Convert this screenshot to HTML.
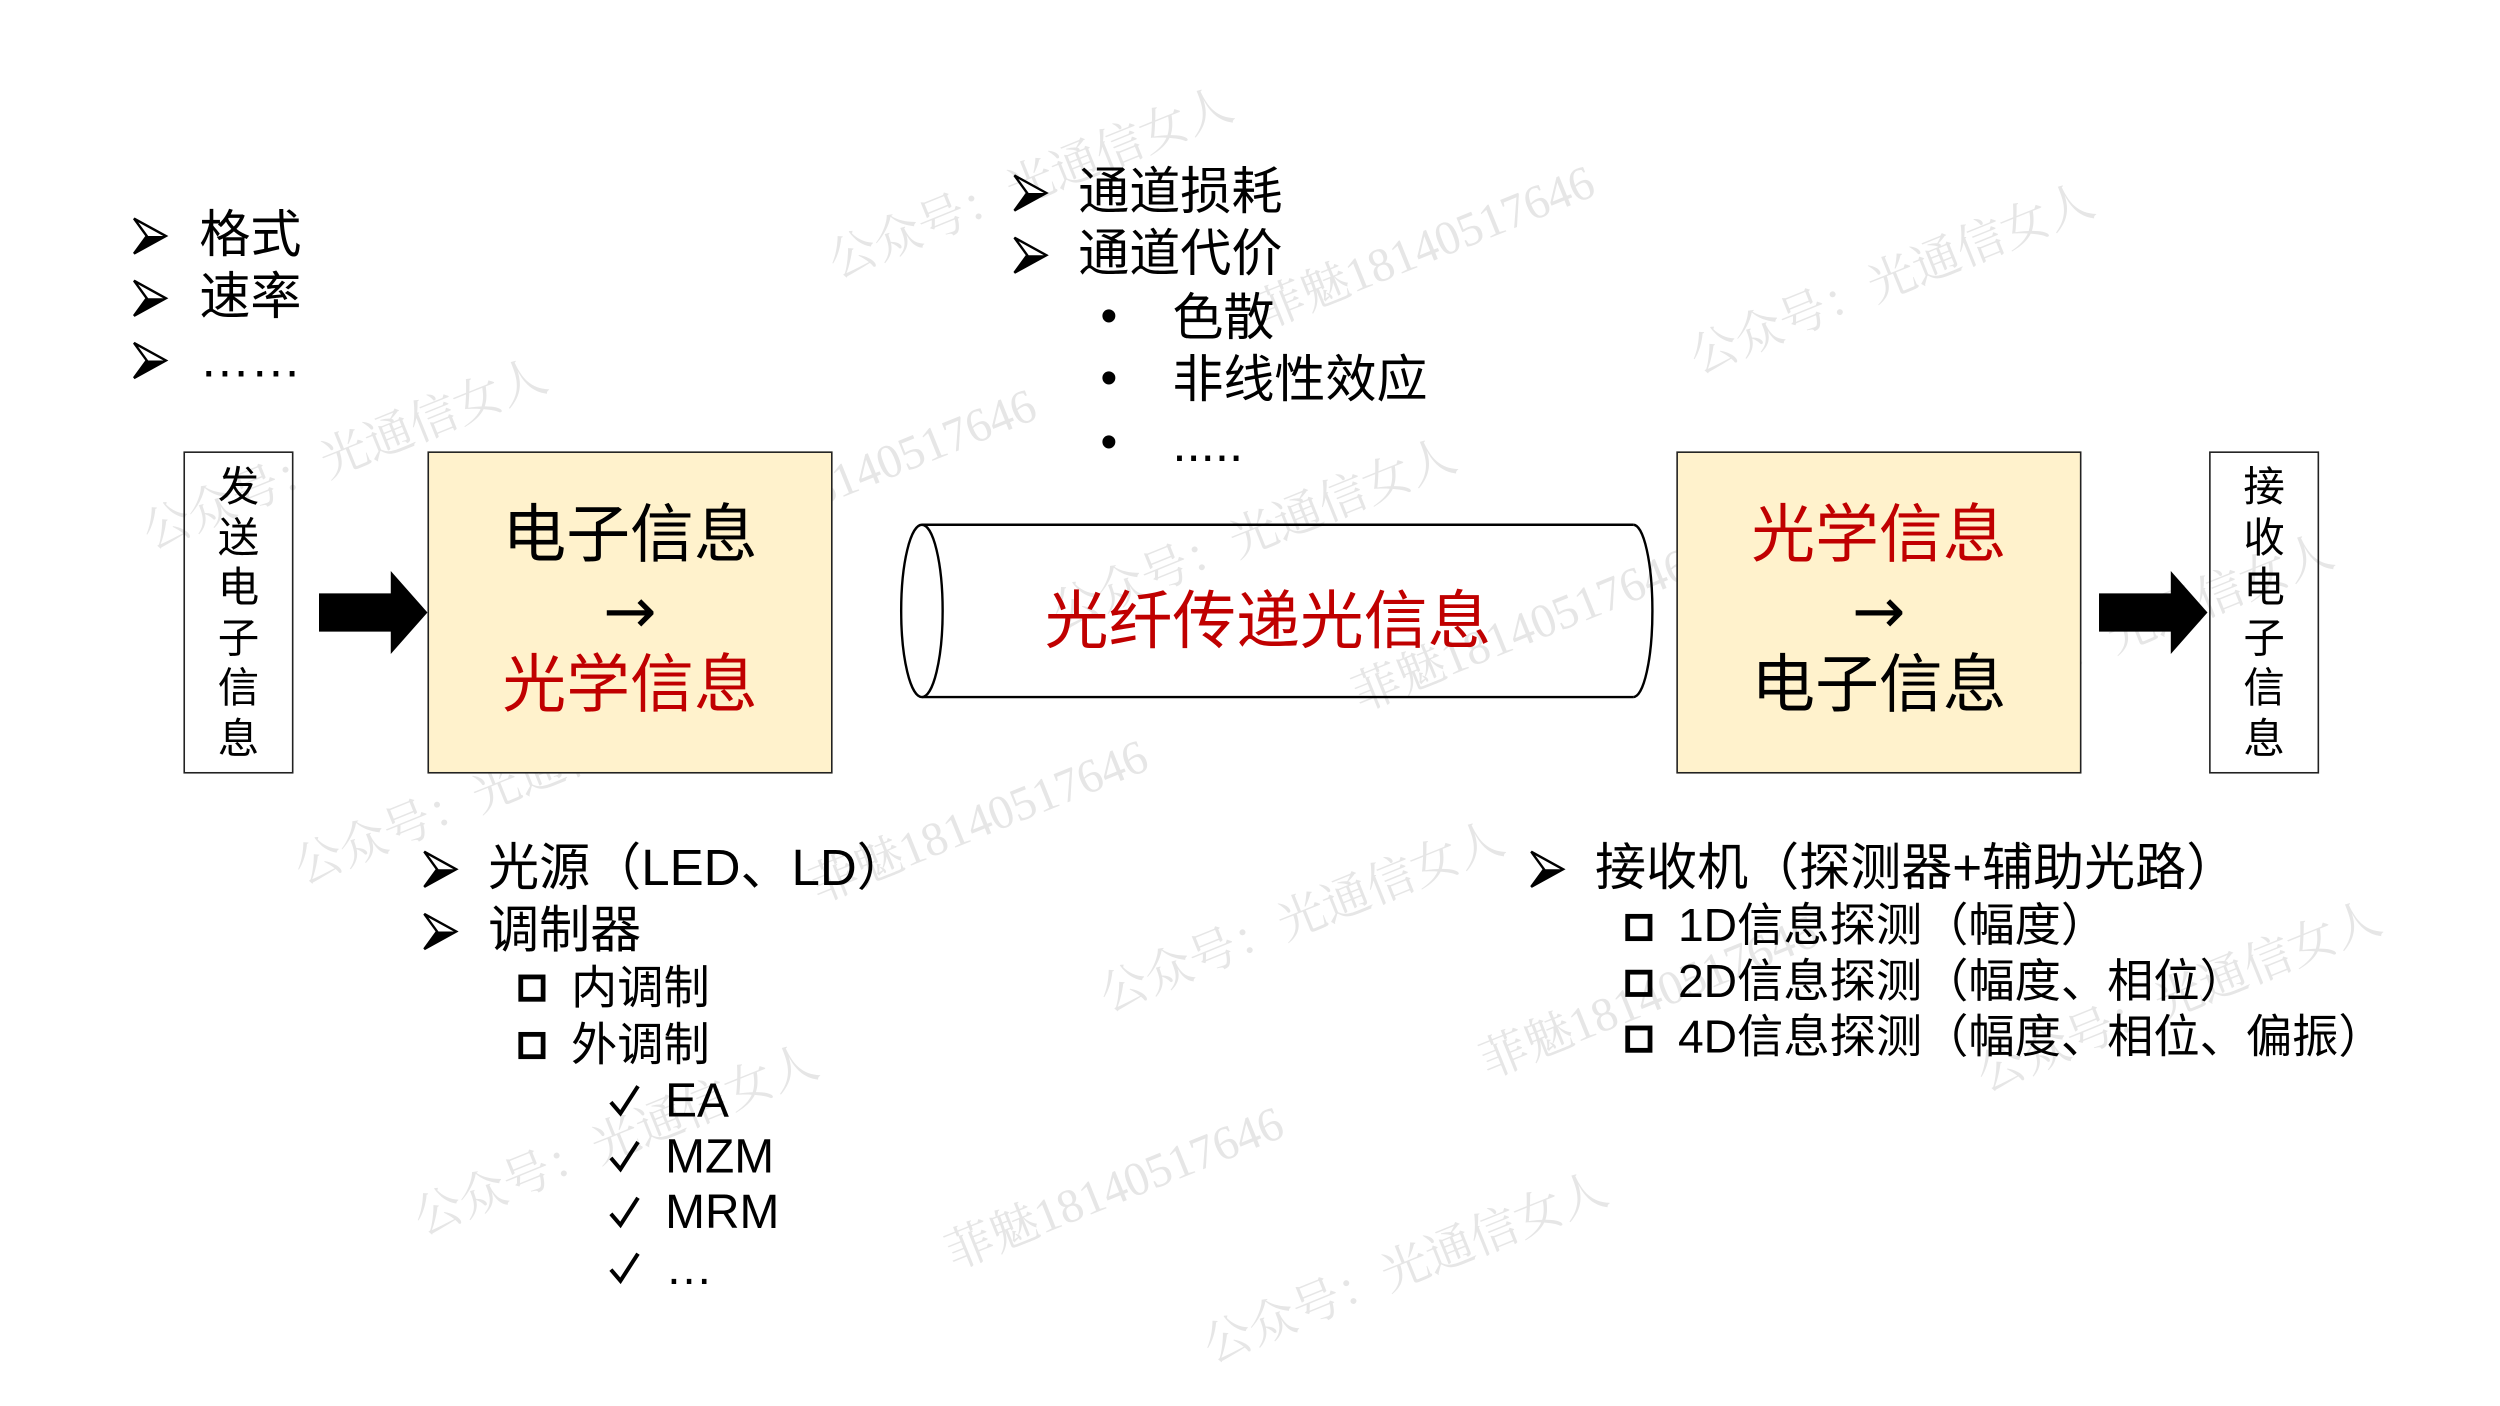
<!DOCTYPE html>
<html><head><meta charset="utf-8"><style>
html,body{margin:0;padding:0;background:#fff;}
body{width:2500px;height:1406px;overflow:hidden;position:relative;}
#c{position:absolute;left:0;top:0;width:1552px;height:873px;transform:scale(1.595);transform-origin:0 0;font-family:"Liberation Sans","Noto Sans CJK SC",sans-serif;color:#000;}
.t{position:absolute;white-space:nowrap;line-height:1;}
.b{font-family:"DejaVu Sans",sans-serif;}
.box{position:absolute;border:1.5px solid #222;box-sizing:border-box;}
.y{background:#fff2cc;}
.red{color:#c00000;}
.sq{position:absolute;width:17px;height:17px;border:3.5px solid #000;box-sizing:border-box;}
.wm{position:absolute;color:#e6e6e6;font-size:30px;white-space:nowrap;transform:rotate(-22deg);font-family:"Liberation Serif","Noto Serif CJK SC",serif;}
.ar{position:absolute;}
</style></head><body><div id="c">
<div class="wm" style="left:510px;top:90px">公众号：光通信女人</div>
<div class="wm" style="left:780px;top:130px">菲魅18140517646</div>
<div class="wm" style="left:1050px;top:150px">公众号：光通信女人</div>
<div class="wm" style="left:80px;top:260px">公众号：光通信女人</div>
<div class="wm" style="left:430px;top:270px">菲魅18140517646</div>
<div class="wm" style="left:650px;top:310px">公众号：光通信女人</div>
<div class="wm" style="left:840px;top:370px">菲魅18140517646</div>
<div class="wm" style="left:1200px;top:370px">公众号：光通信女人</div>
<div class="wm" style="left:175px;top:470px">公众号：光通信女人</div>
<div class="wm" style="left:500px;top:490px">菲魅18140517646</div>
<div class="wm" style="left:680px;top:550px">公众号：光通信女人</div>
<div class="wm" style="left:920px;top:600px">菲魅18140517646</div>
<div class="wm" style="left:1230px;top:600px">公众号：光通信女人</div>
<div class="wm" style="left:250px;top:690px">公众号：光通信女人</div>
<div class="wm" style="left:585px;top:720px">菲魅18140517646</div>
<div class="wm" style="left:745px;top:770px">公众号：光通信女人</div>

<svg style="position:absolute;left:0;top:0" width="1552" height="873">
<defs><g id="bu"><polygon points="0,0 20,11 0,22 8,11" fill="#fff" stroke="#000" stroke-width="1.5"/><polygon points="20,11 0,22 8,11" fill="#000"/></g>
<path id="ck" d="M0,10 L6,17 L17,0" stroke="#000" stroke-width="2.5" fill="none"/></defs>
<use href="#bu" x="84" y="137"/><use href="#bu" x="84" y="176"/><use href="#bu" x="84" y="215"/>
<use href="#bu" x="636" y="110"/><use href="#bu" x="636" y="149"/>
<use href="#bu" x="266" y="534"/><use href="#bu" x="266" y="573"/>
<use href="#bu" x="960" y="534"/>
<use href="#ck" x="383" y="681"/><use href="#ck" x="383" y="716"/><use href="#ck" x="383" y="751"/><use href="#ck" x="383" y="786"/>
<polygon points="200,372 245,372 245,358 268,384 245,410 245,396 200,396" fill="#000"/>
<polygon points="1316,372 1361,372 1361,358 1384,384 1361,410 1361,396 1316,396" fill="#000"/>
<path d="M578,329 L1024,329 M578,437 L1024,437" stroke="#000" stroke-width="1.5" fill="none"/>
<ellipse cx="578" cy="383" rx="13" ry="54" fill="#fff" stroke="#000" stroke-width="1.5"/>
<path d="M1024,329 A12,54 0 0 1 1024,437" stroke="#000" stroke-width="1.5" fill="none"/>
</svg>

<div class="t" style="left:125px;top:131px;font-size:32px">格式</div>
<div class="t" style="left:125px;top:170px;font-size:32px">速率</div>
<div class="t" style="left:125px;top:209px;font-size:32px">……</div>

<div class="t" style="left:676px;top:104px;font-size:32px">通道损耗</div>
<div class="t" style="left:676px;top:143px;font-size:32px">通道代价</div>
<div class="t" style="left:690px;top:184px;font-size:30px">•</div>
<div class="t" style="left:735px;top:183px;font-size:32px">色散</div>
<div class="t" style="left:690px;top:223px;font-size:30px">•</div>
<div class="t" style="left:735px;top:222px;font-size:32px">非线性效应</div>
<div class="t" style="left:690px;top:263px;font-size:30px">•</div>
<div class="t" style="left:735px;top:262px;font-size:32px">.....</div>

<div class="box" style="left:115px;top:283px;width:69px;height:202px"></div>
<div class="t" style="left:115px;top:290px;width:69px;text-align:center;font-size:26px;line-height:31.5px;white-space:normal">发<br>送<br>电<br>子<br>信<br>息</div>
<div class="box" style="left:1385px;top:283px;width:69px;height:202px"></div>
<div class="t" style="left:1385px;top:290px;width:69px;text-align:center;font-size:26px;line-height:31.5px;white-space:normal">接<br>收<br>电<br>子<br>信<br>息</div>

<div class="box y" style="left:268px;top:283px;width:254px;height:202px"></div>
<div class="t" style="left:268px;top:316px;width:254px;text-align:center;font-size:40px">电子信息</div>
<div class="t b" style="left:268px;top:364px;width:254px;text-align:center;font-size:40px">→</div>
<div class="t red" style="left:268px;top:410px;width:254px;text-align:center;font-size:40px">光学信息</div>

<div class="box y" style="left:1051px;top:283px;width:254px;height:202px"></div>
<div class="t red" style="left:1051px;top:316px;width:254px;text-align:center;font-size:40px">光学信息</div>
<div class="t b" style="left:1051px;top:364px;width:254px;text-align:center;font-size:40px">→</div>
<div class="t" style="left:1051px;top:410px;width:254px;text-align:center;font-size:40px">电子信息</div>

<div class="t red" style="left:565px;top:370px;width:460px;text-align:center;font-size:40px">光纤传递光信息</div>

<div class="t" style="left:306px;top:528px;font-size:32px">光源（LED、LD）</div>
<div class="t" style="left:306px;top:567px;font-size:32px">调制器</div>
<div class="sq" style="left:325px;top:611px"></div>
<div class="t" style="left:358px;top:606px;font-size:29px">内调制</div>
<div class="sq" style="left:325px;top:647px"></div>
<div class="t" style="left:358px;top:642px;font-size:29px">外调制</div>
<div class="t" style="left:417px;top:676px;font-size:30px">EA</div>
<div class="t" style="left:417px;top:711px;font-size:30px">MZM</div>
<div class="t" style="left:417px;top:746px;font-size:30px">MRM</div>
<div class="t" style="left:417px;top:781px;font-size:30px">…</div>

<div class="t" style="left:1000px;top:528px;font-size:32px">接收机（探测器+辅助光路）</div>
<div class="sq" style="left:1019px;top:573px"></div>
<div class="t" style="left:1052px;top:567px;font-size:29px">1D信息探测（幅度）</div>
<div class="sq" style="left:1019px;top:608px"></div>
<div class="t" style="left:1052px;top:602px;font-size:29px">2D信息探测（幅度、相位）</div>
<div class="sq" style="left:1019px;top:643px"></div>
<div class="t" style="left:1052px;top:637px;font-size:29px">4D信息探测（幅度、相位、偏振）</div>
</div></body></html>
